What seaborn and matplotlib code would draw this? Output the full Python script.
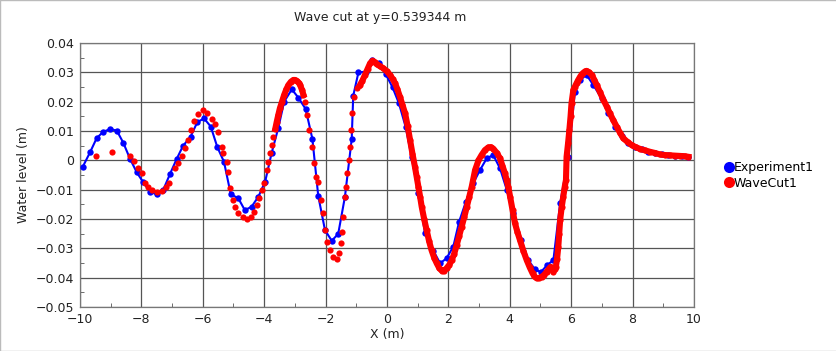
import numpy as np
import matplotlib
matplotlib.use("Agg")
import matplotlib.pyplot as plt
import seaborn as sns
from matplotlib.lines import Line2D
from matplotlib.ticker import MultipleLocator, FuncFormatter

title = "Wave cut at y=0.539344 m"
xlabel = "X (m)"
ylabel = "Water level (m)"
series_names = ["Experiment1", "WaveCut1"]

exp_x = [-9.91, -9.67, -9.46, -9.26, -9.02, -8.80, -8.59, -8.37, -8.15, -7.94,
         -7.72, -7.50, -7.29, -7.07, -6.85, -6.64, -6.40, -6.18, -5.96, -5.74,
         -5.53, -5.31, -5.09, -4.84, -4.63, -4.41, -4.19, -3.97, -3.76, -3.54,
         -3.35, -3.10, -2.89, -2.65, -2.43, -2.24, -2.02, -1.80, -1.59, -1.37,
         -1.15, -1.10, -0.93, -0.69, -0.48, -0.26, -0.04, 0.18, 0.39, 0.61,
         0.80, 1.02, 1.24, 1.51, 1.73, 1.94, 2.16, 2.35, 2.57, 2.81,
         3.03, 3.25, 3.46, 3.68, 3.90, 4.11, 4.38, 4.60, 4.82, 5.01,
         5.22, 5.42, 5.64, 5.91, 6.12, 6.30, 6.50, 6.72, 6.99, 7.21,
         7.43, 7.64, 7.86, 8.08, 8.30, 8.51, 8.73, 8.95, 9.16, 9.38,
         9.60, 9.82]
exp_y = [-0.0022, 0.0028, 0.0075, 0.0096, 0.0107, 0.0101, 0.0060, 0.0005, -0.0041, -0.0075,
         -0.0107, -0.0116, -0.0101, -0.0047, 0.0005, 0.0050, 0.0080, 0.0130, 0.0143, 0.0115,
         0.0046, -0.0005, -0.0115, -0.0130, -0.0170, -0.0158, -0.0124, -0.0073, 0.0024, 0.0111,
         0.0200, 0.0242, 0.0214, 0.0175, 0.0073, -0.0121, -0.0238, -0.0274, -0.0251, -0.0124,
         0.0072, 0.0220, 0.0300, 0.0302, 0.0342, 0.0331, 0.0294, 0.0249, 0.0194, 0.0113,
         0.0012, -0.0110, -0.0249, -0.0308, -0.0351, -0.0334, -0.0294, -0.0209, -0.0141, -0.0078,
         -0.0033, 0.0007, 0.0018, -0.0027, -0.0100, -0.0181, -0.0272, -0.0340, -0.0372, -0.0381,
         -0.0357, -0.0340, -0.0147, 0.0012, 0.0234, 0.0275, 0.0291, 0.0257, 0.0211, 0.0160,
         0.0115, 0.0083, 0.0058, 0.0046, 0.0038, 0.0029, 0.0024, 0.0020, 0.0018, 0.0016,
         0.0015, 0.0012]

cut_x = [-9.49, -8.95, -8.37, -8.24, -8.10, -7.99, -7.88, -7.78, -7.66, -7.50,
         -7.34, -7.20, -7.09, -6.90, -6.80, -6.69, -6.58, -6.47, -6.40, -6.29,
         -6.15, -6.00, -5.85, -5.71, -5.60, -5.49, -5.38, -5.33, -5.22, -5.17,
         -5.11, -5.03, -4.95, -4.84, -4.70, -4.57, -4.44, -4.33, -4.24, -4.16,
         -4.08, -4.00, -3.92, -3.86, -3.81, -3.75, -3.70, -3.64, -3.59, -3.54,
         -3.49, -3.42, -3.35, -3.28, -3.21, -3.13, -3.05, -2.99, -2.94, -2.88,
         -2.83, -2.77, -2.72, -2.67, -2.61, -2.53, -2.45, -2.38, -2.31, -2.24,
         -2.16, -2.09, -2.02, -1.94, -1.86, -1.75, -1.64, -1.55, -1.51, -1.45,
         -1.42, -1.37, -1.34, -1.29, -1.24, -1.21, -1.17, -1.13, -1.08, -0.99,
         -0.88, -0.80, -0.72, -0.63, -0.55, -0.47, -0.40, -0.34, -0.23, -0.12,
         0.00, 0.10, 0.18, 0.26, 0.34, 0.42, 0.50, 0.59, 0.67, 0.75,
         0.83, 0.91, 0.97, 1.02, 1.08, 1.13, 1.21, 1.29, 1.37, 1.45,
         1.54, 1.62, 1.70, 1.78, 1.86, 1.94, 2.03, 2.11, 2.19, 2.27,
         2.35, 2.43, 2.52, 2.60, 2.68, 2.76, 2.87, 2.98, 3.08, 3.19,
         3.30, 3.38, 3.46, 3.57, 3.68, 3.76, 3.84, 3.90, 3.95, 4.01,
         4.09, 4.17, 4.25, 4.33, 4.44, 4.55, 4.65, 4.74, 4.80, 4.87,
         4.95, 5.04, 5.12, 5.20, 5.27, 5.33, 5.38, 5.42, 5.46, 5.50,
         5.54, 5.58, 5.61, 5.64, 5.69, 5.74, 5.79, 5.83, 5.85, 5.90,
         5.94, 5.98, 6.01, 6.07, 6.12, 6.18, 6.23, 6.29, 6.35, 6.40,
         6.45, 6.50, 6.58, 6.67, 6.75, 6.83, 6.94, 7.05, 7.16, 7.26,
         7.37, 7.48, 7.59, 7.70, 7.84, 7.97, 8.10, 8.24, 8.40, 8.57,
         8.73, 8.89, 9.05, 9.22, 9.38, 9.54, 9.70, 9.82]
cut_y = [0.0016, 0.0029, 0.0015, -0.0002, -0.0025, -0.0044, -0.0078, -0.0092, -0.0101, -0.0107,
         -0.0105, -0.0092, -0.0078, -0.0027, -0.0008, 0.0015, 0.0041, 0.0069, 0.0103, 0.0135,
         0.0157, 0.0172, 0.0162, 0.0140, 0.0125, 0.0098, 0.0046, 0.0024, -0.0005, -0.0039,
         -0.0095, -0.0135, -0.0158, -0.0180, -0.0194, -0.0201, -0.0194, -0.0175, -0.0152, -0.0130,
         -0.0101, -0.0078, -0.0033, -0.0005, 0.0024, 0.0052, 0.0081, 0.0107, 0.0132, 0.0155,
         0.0177, 0.0200, 0.0223, 0.0242, 0.0257, 0.0268, 0.0274, 0.0274, 0.0271, 0.0265,
         0.0257, 0.0240, 0.0223, 0.0200, 0.0155, 0.0103, 0.0046, -0.0010, -0.0056, -0.0073,
         -0.0135, -0.0181, -0.0238, -0.0277, -0.0306, -0.0331, -0.0337, -0.0317, -0.0283, -0.0243,
         -0.0192, -0.0124, -0.0090, -0.0044, 0.0001, 0.0046, 0.0103, 0.0160, 0.0217, 0.0246,
         0.0257, 0.0272, 0.0291, 0.0312, 0.0331, 0.0340, 0.0334, 0.0328, 0.0321, 0.0314,
         0.0303, 0.0291, 0.0278, 0.0263, 0.0242, 0.0217, 0.0190, 0.0160, 0.0118, 0.0069,
         0.0022, -0.0022, -0.0058, -0.0090, -0.0125, -0.0158, -0.0200, -0.0238, -0.0275, -0.0306,
         -0.0333, -0.0351, -0.0367, -0.0376, -0.0376, -0.0368, -0.0356, -0.0340, -0.0318, -0.0289,
         -0.0258, -0.0226, -0.0192, -0.0158, -0.0124, -0.0090, -0.0033, 0.0000, 0.0018, 0.0035,
         0.0044, 0.0045, 0.0040, 0.0026, 0.0007, -0.0018, -0.0044, -0.0068, -0.0090, -0.0124,
         -0.0170, -0.0215, -0.0245, -0.0272, -0.0308, -0.0340, -0.0365, -0.0385, -0.0395, -0.0402,
         -0.0401, -0.0397, -0.0390, -0.0380, -0.0370, -0.0363, -0.0372, -0.0380, -0.0372, -0.0363,
         -0.0335, -0.0294, -0.0250, -0.0203, -0.0160, -0.0124, -0.0090, -0.0067, 0.0012, 0.0060,
         0.0103, 0.0150, 0.0194, 0.0240, 0.0251, 0.0264, 0.0274, 0.0285, 0.0294, 0.0299,
         0.0303, 0.0305, 0.0300, 0.0291, 0.0275, 0.0257, 0.0232, 0.0206, 0.0183, 0.0160,
         0.0137, 0.0115, 0.0094, 0.0075, 0.0062, 0.0052, 0.0045, 0.0039, 0.0034, 0.0029,
         0.0025, 0.0020, 0.0018, 0.0017, 0.0016, 0.0015, 0.0014, 0.0012]

blue = "#0000ff"
red = "#ff0000"

fig = plt.figure(figsize=(8.37, 3.51), dpi=100)
ax = fig.add_axes([80 / 837, 44 / 351, 614 / 837, 264 / 351])

cx = np.array(cut_x)
cy = np.array(cut_y)
seg1 = (cx >= -3.66) & (cx <= -2.7)
seg2 = cx >= -0.95

sns.lineplot(x=exp_x, y=exp_y, ax=ax, color=blue, linewidth=1.5, marker="o",
             markersize=4.6, markeredgewidth=0, sort=False, zorder=3)
for m in (seg1, seg2):
    sns.lineplot(x=cx[m], y=cy[m], ax=ax, color=red, linewidth=4.4, sort=False,
                 zorder=4)
sns.scatterplot(x=cx, y=cy, ax=ax, color=red, s=20, linewidth=0, zorder=5)

ax.set_xlim(-10, 10)
ax.set_ylim(-0.05, 0.04)
ax.xaxis.set_major_locator(MultipleLocator(2))
ax.xaxis.set_minor_locator(MultipleLocator(1))
ax.yaxis.set_major_locator(MultipleLocator(0.01))
ax.yaxis.set_minor_locator(MultipleLocator(0.005))

def fmt(v, pos):
    s = f"{v:.2f}".rstrip("0").rstrip(".")
    if s in ("-0", "0"):
        return "0"
    return s.replace("-", "\u2212")

ax.yaxis.set_major_formatter(FuncFormatter(fmt))
ax.xaxis.set_major_formatter(FuncFormatter(lambda v, p: f"{v:g}".replace("-", "\u2212")))
ax.grid(True, which="major", color="#555555", linewidth=0.9)
ax.set_axisbelow(True)
ax.tick_params(which="both", direction="in", labelsize=9, colors="#555555",
               labelcolor="#222222")
ax.tick_params(which="major", length=0, pad=4)
ax.tick_params(which="minor", length=3)
for s in ax.spines.values():
    s.set_color("#777777")
    s.set_linewidth(0.9)

ax.set_xlabel(xlabel, fontsize=9, color="#222222", labelpad=2)
ax.set_ylabel(ylabel, fontsize=9, color="#222222", labelpad=4)
fig.text(380 / 837, 1 - 18 / 351, title, ha="center", va="center", fontsize=9,
         color="#222222")

handles = [Line2D([], [], linestyle="none", marker="o", markersize=8,
                  markerfacecolor=blue, markeredgewidth=0),
           Line2D([], [], linestyle="none", marker="o", markersize=8,
                  markerfacecolor=red, markeredgewidth=0)]
fig.legend(handles, series_names, loc="upper left",
           bbox_to_anchor=(710 / 837, 1 - 150 / 351), frameon=False,
           fontsize=9, handletextpad=-0.2, labelspacing=0.2, handlelength=1.2)

border = plt.Rectangle((0, 0), 1, 1, transform=fig.transFigure, fill=False,
                       edgecolor="#bbbbbb", linewidth=1)
fig.patches.append(border)

fig.savefig("out.png", dpi=100)
